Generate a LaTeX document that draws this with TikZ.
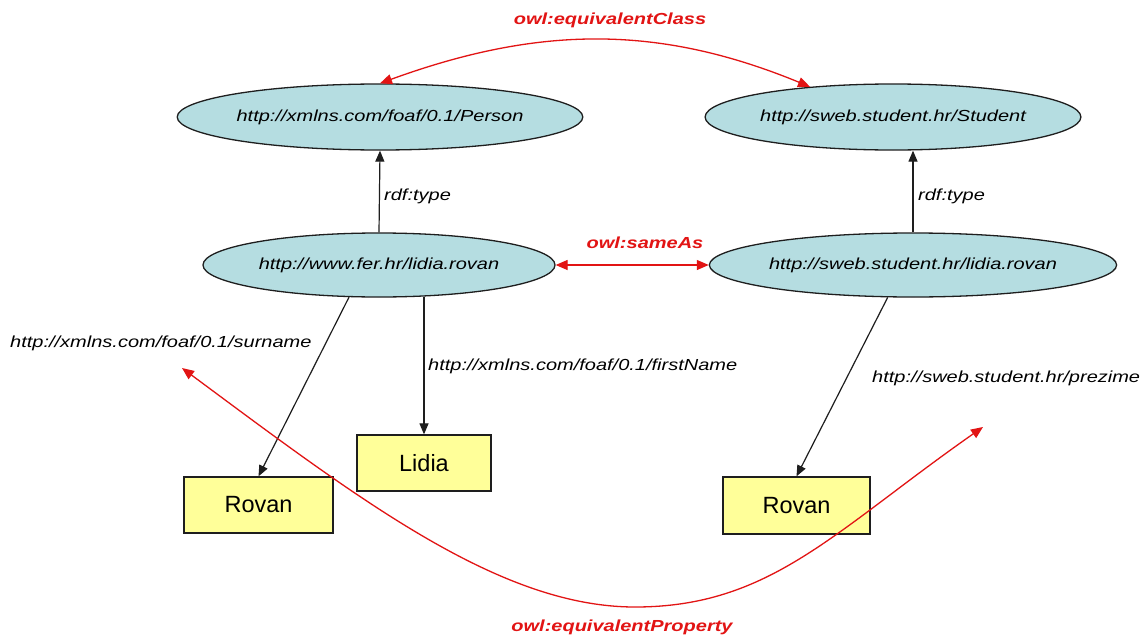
\documentclass[tikz,border=0pt]{standalone}
\usepackage{fontspec}
\setmainfont{Liberation Sans}
\newfontfamily\labfont[FakeStretch=1.25]{Liberation Sans}
\usetikzlibrary{shapes.geometric,arrows.meta}
\definecolor{ellfill}{RGB}{181,221,225}
\definecolor{boxfill}{RGB}{255,255,153}
\definecolor{owlred}{RGB}{226,20,20}
\definecolor{edgecol}{RGB}{30,30,30}
\begin{document}
\begin{tikzpicture}[x=1pt,y=-1pt,
  res/.style={ellipse, draw=edgecol, line width=1.3pt, fill=ellfill, inner sep=0pt,
    font=\labfont\itshape\fontsize{16}{18}\selectfont},
  lit/.style={rectangle, draw=edgecol, line width=1.3pt, fill=boxfill, inner sep=0pt,
    font=\fontsize{23.5}{26}\selectfont},
  prop/.style={font=\labfont\itshape\fontsize{16}{18}\selectfont, inner sep=0pt, anchor=west},
  owl/.style={font=\labfont\bfseries\itshape\fontsize{16}{18}\selectfont, text=owlred, inner sep=0pt},
  rel/.style={draw=edgecol, line width=1.2pt, -{Triangle[length=11pt,width=9pt]}},
  owlarrow/.style={draw=owlred, line width=1.3pt,
    {Triangle[length=12pt,width=10pt]}-{Triangle[length=12pt,width=10pt]}}]
\useasboundingbox[fill=white] (0,0) rectangle (1143,637);

% resources
\node[res, minimum width=352pt, minimum height=66pt] (person) at (380,117) {http://xmlns.com/foaf/0.1/Person};
\node[res, minimum width=310pt, minimum height=66pt] (student) at (893,117) {http://sweb.student.hr/Student};
\node[res, minimum width=352pt, minimum height=64pt] (fer) at (379,265) {http://www.fer.hr/lidia.rovan};
\node[res, minimum width=350pt, minimum height=64pt] (sweb) at (913,265) {http://sweb.student.hr/lidia.rovan};

% literals
\node[lit, minimum width=134pt, minimum height=56pt] (lidia) at (424,463) {Lidia};
\node[lit, minimum width=149pt, minimum height=56pt] (rovanL) at (258.5,505) {Rovan};
\node[lit, minimum width=147pt, minimum height=57pt] (rovanR) at (796.5,505.5) {Rovan};

% property labels
\node[prop] (surname) at (10,343) {http://xmlns.com/foaf/0.1/surname};
\node[prop] (firstname) at (428,366) {http://xmlns.com/foaf/0.1/firstName};
\node[prop] (prezime) at (872,378) {http://sweb.student.hr/prezime};
\node[prop] (type1) at (384,196) {rdf:type};
\node[prop] (type2) at (918,196) {rdf:type};

\node[owl] (eqc) at (610,20) {owl:equivalentClass};
\node[owl] (same) at (645,243) {owl:sameAs};
\node[owl] (eqp) at (622,627) {owl:equivalentProperty};

% connectors
\draw[rel] (fer.north) -- (person.south);
\draw[rel] (sweb.north) -- (sweb.north |- student.south);
\draw[rel] (fer.227) -- (rovanL.north);
\draw[rel] (fer.-36 -| lidia.north) -- (lidia.north);
\draw[rel] (sweb.232) -- (rovanR.north);

\draw[owlarrow] (fer.east) -- (sweb.west);
\draw[owlarrow] (person.north) .. controls (540,25) and (660,25) .. (student.160);

\coordinate (pl) at (182,368);
\coordinate (pr) at (983,427);
\coordinate (pb) at (635,607);
\draw[owlarrow] (pl) .. controls (360,500) and (500,607) .. (pb)
  .. controls (770,607) and (833,532) .. (pr);
\end{tikzpicture}
\end{document}
